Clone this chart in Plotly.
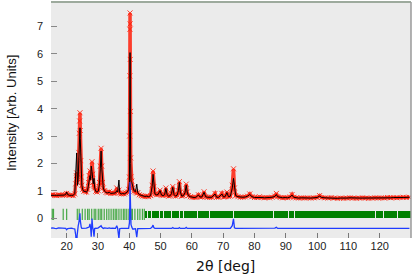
import plotly.graph_objects as go

# ---- data ----
two_theta = [15.0, 15.6, 16.2, 16.8, 17.4, 18.0, 18.6, 19.2, 19.7, 20.0, 20.3, 20.9, 21.5, 22.1, 22.6,
             22.9, 23.1, 23.2, 23.35, 23.5, 23.7, 23.9, 24.05, 24.15, 24.25, 24.35, 24.5, 24.65, 24.85,
             25.1, 25.5, 25.9, 26.3, 26.7, 27.0, 27.2, 27.45, 27.65, 27.85, 28.1, 28.3, 28.5, 28.75, 28.95,
             29.3, 29.7, 30.1, 30.5, 30.75, 31.0, 31.2, 31.45, 31.7, 32.1, 32.6, 33.1, 33.6, 34.1, 34.6,
             35.1, 35.6, 36.0, 36.3, 36.7, 36.95, 37.4, 37.9, 38.4, 38.9, 39.4, 39.8,
             40.05, 40.12, 40.18, 40.22, 40.25, 40.28, 40.32, 40.38, 40.45, 40.55, 40.8, 41.1, 41.5,
             42.0, 42.4, 42.7, 43.2, 43.8, 44.4, 45.0, 45.6, 46.2, 46.8, 47.3, 47.6, 47.85, 48.2, 48.7,
             49.2, 49.85, 50.3, 50.8, 51.3, 51.7, 52.1, 52.6, 53.1, 53.5, 53.9, 54.3, 54.8, 55.3, 55.7,
             56.0, 56.3, 56.8, 57.3, 57.8, 58.2, 58.5, 58.9, 59.5, 60.1, 60.7, 61.3, 62.1, 62.6, 63.2,
             63.9, 64.4, 65.0, 65.7, 66.4, 67.4, 67.9, 68.6, 69.6, 70.1, 70.6, 71.2, 71.7, 72.3, 72.9,
             73.3, 73.6, 74.0, 74.7, 75.5, 76.3, 77.1, 77.8, 78.5, 79.2, 80.0, 80.8, 81.6, 82.4, 83.2,
             84.0, 84.8, 85.6, 86.5, 87.0, 87.4, 88.2, 89.0, 89.8, 90.6, 91.4, 92.0, 92.5, 93.3, 94.1,
             95.0, 96.0, 97.0, 98.0, 99.0, 100.0, 100.8, 101.5, 102.5, 103.5, 104.5, 105.5, 106.5, 107.5,
             108.5, 109.5, 110.5, 111.5, 112.5, 113.5, 114.5, 115.5, 116.5, 117.5, 118.5, 119.5, 120.5,
             121.5, 122.5, 123.5, 124.5, 125.5, 126.5, 127.5, 128.5, 129.5]

y_obs = [0.84, 0.86, 0.83, 0.82, 0.85, 0.84, 0.83, 0.84, 0.86, 0.90, 0.85, 0.83, 0.84, 0.82, 0.88,
         1.25, 1.55, 1.65, 1.45, 1.30, 1.60, 2.40, 3.10, 3.55, 3.85, 3.20, 2.10, 1.50, 1.20,
         1.05, 0.98, 1.00, 0.95, 1.05, 1.30, 1.55, 1.72, 1.45, 1.60, 2.06, 1.60, 1.20, 1.15, 1.10,
         0.98, 0.95, 1.00, 1.30, 1.90, 2.55, 1.90, 1.30, 1.10, 1.00, 0.94, 0.92, 0.96, 0.90, 0.92,
         0.90, 0.92, 1.10, 0.95, 1.02, 0.92, 0.88, 0.90, 0.88, 0.92, 0.95, 1.05,
         1.50, 3.00, 5.20, 6.90, 7.50, 7.10, 5.80, 3.90, 2.20, 1.50, 1.35, 1.10, 0.98,
         0.95, 0.92, 0.92, 0.85, 0.82, 0.80, 0.78, 0.80, 0.78, 0.82, 1.20, 1.72, 1.15, 0.88, 0.85,
         0.86, 1.02, 0.84, 0.82, 0.85, 1.10, 0.85, 0.80, 0.82, 0.90, 1.15, 0.86, 0.80, 0.84, 1.00,
         1.33, 0.95, 0.80, 0.82, 0.92, 1.24, 0.95, 0.82, 0.78, 0.76, 0.75, 0.76, 0.85, 0.77, 0.77,
         0.96, 0.78, 0.76, 0.75, 0.76, 0.90, 0.76, 0.76, 0.90, 0.77, 0.78, 0.95, 0.78, 0.80, 1.20,
         1.80, 1.10, 0.82, 0.78, 0.76, 0.76, 0.77, 0.80, 0.88, 0.78, 0.75, 0.75, 0.78, 0.75, 0.74,
         0.75, 0.74, 0.76, 0.80, 0.90, 0.78, 0.75, 0.74, 0.75, 0.74, 0.77, 0.86, 0.76, 0.74, 0.73,
         0.74, 0.73, 0.74, 0.73, 0.74, 0.75, 0.82, 0.75, 0.74, 0.73, 0.75, 0.73, 0.72, 0.73,
         0.72, 0.73, 0.74, 0.73, 0.72, 0.73, 0.74, 0.73, 0.72, 0.73, 0.74, 0.73, 0.74,
         0.73, 0.75, 0.74, 0.75, 0.74, 0.75, 0.76, 0.75, 0.76]

y_calc = [0.83, 0.84, 0.83, 0.83, 0.83, 0.83, 0.83, 0.84, 0.86, 0.95, 0.86, 0.83, 0.83, 0.83, 0.90,
          1.50, 2.10, 2.38, 1.70, 1.20, 1.50, 2.20, 2.80, 3.20, 3.30, 2.90, 2.00, 1.45, 1.20,
          1.05, 0.97, 0.98, 0.94, 1.02, 1.25, 1.50, 1.55, 1.40, 1.90, 1.70, 1.55, 1.25, 1.45, 1.10,
          0.97, 0.95, 0.98, 1.25, 1.80, 2.45, 1.85, 1.30, 1.10, 0.98, 0.93, 0.92, 0.94, 0.90, 0.91,
          0.90, 0.92, 1.00, 0.95, 1.39, 0.93, 0.88, 0.90, 0.88, 0.92, 0.95, 1.05,
          1.30, 2.60, 4.30, 5.20, 6.05, 5.90, 4.90, 3.30, 2.00, 1.35, 1.30, 1.12, 1.00,
          0.96, 1.24, 0.93, 0.86, 0.83, 0.80, 0.79, 0.80, 0.78, 0.82, 1.15, 1.60, 1.12, 0.88, 0.85,
          0.86, 1.00, 0.84, 0.82, 0.85, 1.08, 0.85, 0.80, 0.82, 0.90, 1.12, 0.86, 0.80, 0.84, 1.00,
          1.30, 0.95, 0.80, 0.82, 0.92, 1.20, 0.95, 0.82, 0.78, 0.76, 0.75, 0.76, 0.84, 0.77, 0.77,
          0.94, 0.78, 0.76, 0.75, 0.76, 0.88, 0.76, 0.76, 0.88, 0.77, 0.78, 0.93, 0.78, 0.80, 1.10,
          1.45, 1.08, 0.82, 0.78, 0.76, 0.76, 0.77, 0.80, 0.86, 0.78, 0.75, 0.75, 0.77, 0.75, 0.74,
          0.75, 0.74, 0.76, 0.79, 0.86, 0.78, 0.75, 0.74, 0.75, 0.74, 0.77, 0.84, 0.76, 0.74, 0.73,
          0.74, 0.73, 0.74, 0.73, 0.74, 0.75, 0.80, 0.75, 0.74, 0.73, 0.74, 0.73, 0.72, 0.73,
          0.72, 0.73, 0.74, 0.73, 0.72, 0.73, 0.73, 0.73, 0.72, 0.73, 0.74, 0.73, 0.74,
          0.73, 0.74, 0.74, 0.75, 0.74, 0.75, 0.75, 0.75, 0.76]

diff_offset = -0.38

# Bragg reflection positions (sparse low-angle part)
bragg_ticks = [15.4, 15.8, 18.9, 20.0, 23.4, 24.0, 25.0, 25.9, 26.7, 27.2, 28.0, 28.8, 29.3, 30.1,
               30.7, 31.2, 32.0, 32.8, 33.5, 34.2, 34.9, 35.5, 36.0, 36.7, 37.4, 38.1, 38.6, 39.2,
               39.9, 40.6, 41.0, 41.8, 42.7, 43.4, 44.2, 44.8]
# Dense high-angle part: contiguous runs of reflections (start, end)
bragg_span_start = [44.9, 46.0, 47.3, 48.6, 49.8, 51.1, 52.2, 53.5, 54.7, 56.1, 57.5, 58.9, 62.0,
                    65.8, 73.3, 86.3, 91.1, 93.0, 118.8, 121.3, 125.8]
bragg_span_end = [45.8, 47.1, 48.4, 49.6, 50.9, 52.0, 53.3, 54.5, 55.9, 57.3, 58.7, 61.7, 65.5,
                  73.0, 86.0, 90.8, 92.7, 118.5, 121.0, 125.5, 130.0]
bragg_height = 0.27

x_ticks = [20, 30, 40, 50, 60, 70, 80, 90, 100, 110, 120]
y_ticks = [0, 1, 2, 3, 4, 5, 6, 7]

# ---- figure ----
y_diff = [o - c + diff_offset for o, c in zip(y_obs, y_calc)]
span_mid = [(s + e) / 2 for s, e in zip(bragg_span_start, bragg_span_end)]
span_w = [e - s for s, e in zip(bragg_span_start, bragg_span_end)]

fig = go.Figure()
fig.add_trace(go.Bar(x=span_mid, y=[bragg_height] * len(span_mid), width=span_w, base=0,
                     marker=dict(color="#008000", line=dict(width=0)), showlegend=False))
fig.add_trace(go.Scatter(x=bragg_ticks, y=[bragg_height / 2] * len(bragg_ticks), mode="markers",
                         marker=dict(symbol="line-ns", size=8,
                                     line=dict(color="rgba(0,140,0,0.7)", width=1.2)),
                         showlegend=False))
fig.add_trace(go.Scatter(x=two_theta, y=y_obs, mode="lines+markers",
                         line=dict(color="rgba(255,30,10,0.85)", width=3.5),
                         marker=dict(symbol="x-thin-open", size=5,
                                     line=dict(color="rgba(255,70,50,0.75)", width=1)),
                         showlegend=False))
fig.add_trace(go.Scatter(x=two_theta, y=y_calc, mode="lines",
                         line=dict(color="black", width=1), showlegend=False))
fig.add_trace(go.Scatter(x=two_theta, y=y_diff, mode="lines",
                         line=dict(color="#1f3cff", width=1.3), showlegend=False))

fig.update_layout(
    width=415, height=277,
    margin=dict(l=51, r=4, t=2, b=39, autoexpand=False),
    paper_bgcolor="white", plot_bgcolor="#ebebeb",
    bargap=0,
    font=dict(family="Liberation Sans, Arial, sans-serif", color="#222", size=11),
    xaxis=dict(range=[15, 130], tickvals=x_ticks, ticks="inside", ticklen=5, tickcolor="#777",
               tickwidth=1, showgrid=False, zeroline=False, showline=False, automargin=False,
               tickfont=dict(size=11, color="#222")),
    yaxis=dict(range=[-0.73, 7.9], tickvals=y_ticks, ticks="inside", ticklen=6, tickcolor="#888",
               tickwidth=1, showgrid=False, zeroline=False, showline=False, automargin=False,
               ticklabelstandoff=7, tickfont=dict(size=11, color="#222")),
    annotations=[
        dict(text="2θ [deg]", xref="paper", yref="paper", x=0.486, y=-0.119,
             xanchor="center", yanchor="middle", showarrow=False,
             font=dict(family="DejaVu Sans", size=14, color="#111")),
        dict(text="Intensity [Arb. Units]", xref="paper", yref="paper", x=-0.108, y=0.53,
             xanchor="center", yanchor="middle", textangle=-90, showarrow=False,
             font=dict(family="Liberation Sans", size=13, color="#111")),
    ],
    shapes=[
        dict(type="line", xref="paper", yref="paper", x0=0, x1=1, y0=1, y1=1,
             line=dict(color="#9daa9d", width=2)),
        dict(type="line", xref="paper", yref="paper", x0=1, x1=1, y0=0, y1=1,
             line=dict(color="#9a9a9a", width=1.5)),
    ],
)

fig.write_html("out.html", config={"displayModeBar": False},
               post_script="document.body.style.margin='0px';document.body.style.overflow='hidden';")
